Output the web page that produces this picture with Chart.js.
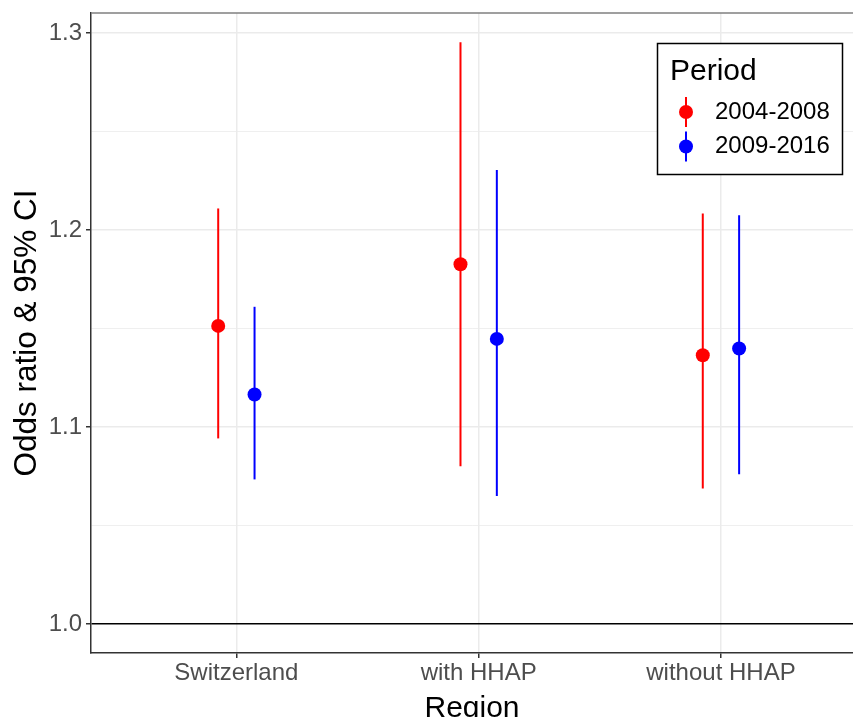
<!DOCTYPE html>
<html lang="en">
<head>
    <meta charset="UTF-8">
    <title>Odds ratio by region and period</title>
    <script src="https://cdn.jsdelivr.net/npm/chart.js"></script>
    <style>
        body { margin: 0; background: #fff; overflow: hidden; }
        canvas { display: block; }
    </style>
</head>
<body>

<canvas id="oddsChart" width="853" height="717"></canvas>

<script>
    // Data
    const categories = ['Switzerland', 'with HHAP', 'without HHAP'];
    const periods = ['2004-2008', '2009-2016'];
    const colors = ['#FF0000', '#0000FF'];

    const or2004 = [1.1514, 1.1827, 1.1365];
    const low2004 = [1.0943, 1.0802, 1.0689];
    const high2004 = [1.2110, 1.2953, 1.2085];

    const or2009 = [1.1166, 1.1448, 1.1399];
    const low2009 = [1.0735, 1.0651, 1.0761];
    const high2009 = [1.1611, 1.2305, 1.2076];

    const yTicks = [1.0, 1.05, 1.1, 1.15, 1.2, 1.25, 1.3];
    const yTickLabels = ['1.0', '', '1.1', '', '1.2', '', '1.3'];

    const dodge = 0.075;
    const tickFont = { family: '"Liberation Sans", Arial, sans-serif', size: 24 };
    const titleFont = { family: '"Liberation Sans", Arial, sans-serif', size: 30 };

    function makeSet(label, color, values, low, high, offset) {
        return {
            label: label,
            data: values.map((v, i) => ({ x: i + offset, y: v })),
            low: low,
            high: high,
            backgroundColor: color,
            borderColor: color,
            pointRadius: 7,
            pointHoverRadius: 7,
            pointBorderWidth: 0,
            showLine: false
        };
    }

    // no extra label padding, the panel fills the frame like the original
    function fitScale(s, size) {
        if (s.isHorizontal()) s.height = size; else s.width = size;
        s.paddingTop = 0;
        s.paddingBottom = 0;
        s.paddingLeft = 0;
        s.paddingRight = 0;
    }

    // vertical CI lines, drawn through the chart scales
    const errorBars = {
        id: 'errorBars',
        beforeDatasetsDraw(chart) {
            const ctx = chart.ctx;
            const xs = chart.scales.x, ys = chart.scales.y;
            chart.data.datasets.forEach(ds => {
                ctx.save();
                ctx.strokeStyle = ds.borderColor;
                ctx.lineWidth = 2;
                ds.data.forEach((p, i) => {
                    const px = xs.getPixelForValue(p.x);
                    ctx.beginPath();
                    ctx.moveTo(px, ys.getPixelForValue(ds.low[i]));
                    ctx.lineTo(px, ys.getPixelForValue(ds.high[i]));
                    ctx.stroke();
                });
                ctx.restore();
            });
        }
    };

    // top border of the panel
    const panelTop = {
        id: 'panelTop',
        afterDraw(chart) {
            const a = chart.chartArea, ctx = chart.ctx;
            ctx.save();
            ctx.strokeStyle = '#7F7F7F';
            ctx.lineWidth = 1.5;
            ctx.beginPath();
            ctx.moveTo(a.left, a.top);
            ctx.lineTo(a.right, a.top);
            ctx.stroke();
            ctx.restore();
        }
    };

    // boxed legend inside the panel
    const boxLegend = {
        id: 'boxLegend',
        afterDraw(chart) {
            const ctx = chart.ctx;
            ctx.save();
            ctx.fillStyle = '#fff';
            ctx.fillRect(657.5, 43.5, 185, 131);
            ctx.strokeStyle = '#000';
            ctx.lineWidth = 1.5;
            ctx.strokeRect(657.5, 43.5, 185, 131);

            ctx.fillStyle = '#000';
            ctx.font = '30px "Liberation Sans", Arial, sans-serif';
            ctx.textBaseline = 'alphabetic';
            ctx.fillText('Period', 670, 80);

            ctx.font = '24px "Liberation Sans", Arial, sans-serif';
            ctx.textBaseline = 'middle';
            chart.data.datasets.forEach((ds, i) => {
                const y = 112 + 34.5 * i;
                ctx.strokeStyle = ds.borderColor;
                ctx.lineWidth = 2;
                ctx.beginPath();
                ctx.moveTo(686, y - 15);
                ctx.lineTo(686, y + 15);
                ctx.stroke();
                ctx.fillStyle = ds.backgroundColor;
                ctx.beginPath();
                ctx.arc(686, y, 7, 0, Math.PI * 2);
                ctx.fill();
                ctx.fillStyle = '#000';
                ctx.fillText(ds.label, 715, y);
            });
            ctx.restore();
        }
    };

    const config = {
        type: 'scatter',
        data: {
            datasets: [
                makeSet(periods[0], colors[0], or2004, low2004, high2004, -dodge),
                makeSet(periods[1], colors[1], or2009, low2009, high2009, dodge)
            ]
        },
        options: {
            responsive: false,
            animation: false,
            layout: { autoPadding: false, padding: { top: 13, right: 0, bottom: 0, left: 0 } },
            plugins: {
                legend: { display: false },
                tooltip: { enabled: false }
            },
            scales: {
                x: {
                    type: 'linear',
                    min: -0.6,
                    max: 2.545,
                    afterBuildTicks: s => { s.ticks = categories.map((c, i) => ({ value: i })); },
                    afterFit: s => fitScale(s, 64),
                    ticks: {
                        callback: v => categories[v],
                        font: tickFont,
                        color: '#4D4D4D',
                        padding: 1,
                        autoSkip: false,
                        maxRotation: 0
                    },
                    grid: {
                        color: '#EBEBEB',
                        lineWidth: 1.5,
                        tickColor: '#333333',
                        tickLength: 5,
                        tickWidth: 1.5
                    },
                    border: { color: '#333333', width: 1.5 },
                    title: {
                        display: true,
                        text: 'Region',
                        color: '#000',
                        font: titleFont,
                        padding: { top: 0, bottom: -10 }
                    }
                },
                y: {
                    min: 0.9854,
                    max: 1.3102,
                    afterBuildTicks: s => { s.ticks = yTicks.map(v => ({ value: v })); },
                    afterFit: s => fitScale(s, 91),
                    ticks: {
                        callback: (v, i) => yTickLabels[i],
                        font: tickFont,
                        color: '#4D4D4D',
                        padding: 4,
                        autoSkip: false
                    },
                    grid: {
                        color: c => c.index === 0 ? '#000000' : '#EBEBEB',
                        lineWidth: c => c.index % 2 === 1 ? 0.8 : 1.5,
                        tickColor: c => c.index % 2 === 1 ? 'rgba(0,0,0,0)' : '#333333',
                        tickLength: 5,
                        tickWidth: 1.5
                    },
                    border: { color: '#333333', width: 1.5 },
                    title: {
                        display: true,
                        text: 'Odds ratio & 95% CI',
                        color: '#000',
                        font: { family: titleFont.family, size: 31.5 },
                        padding: { top: 8, bottom: 0 }
                    }
                }
            }
        },
        plugins: [errorBars, panelTop, boxLegend]
    };

    const oddsChart = new Chart(document.getElementById('oddsChart'), config);
</script>

</body>
</html>
